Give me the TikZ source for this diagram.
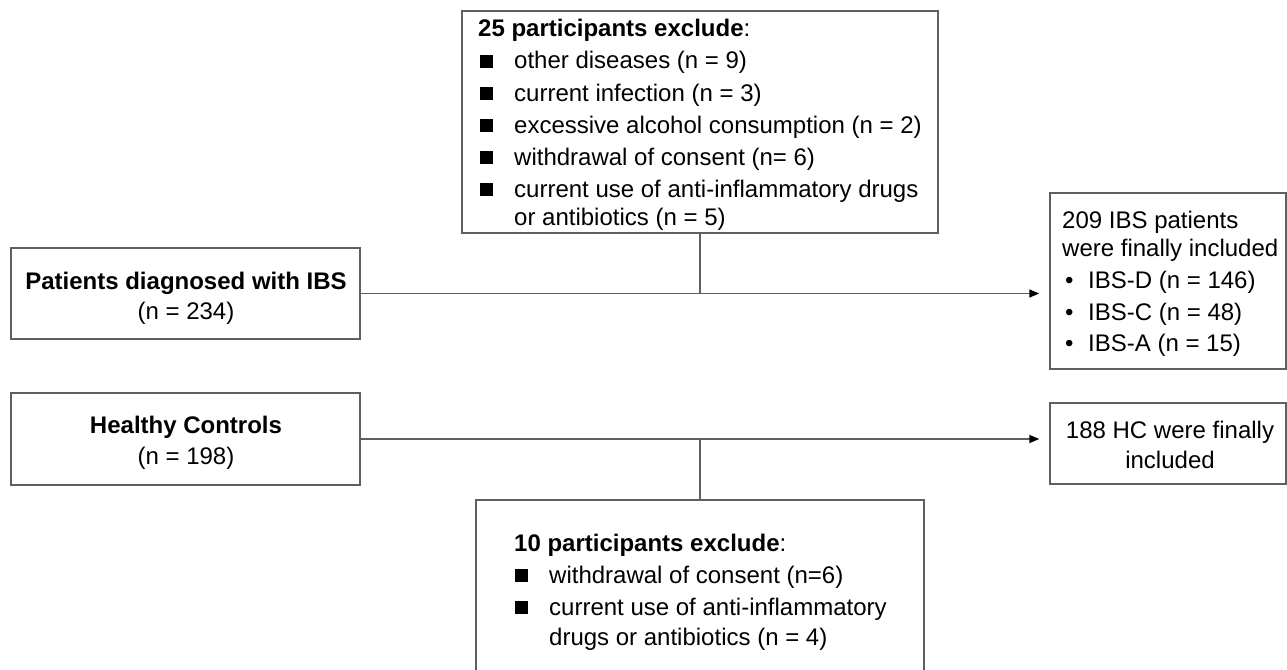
\documentclass[tikz,border=0pt]{standalone}
\usepackage{fontspec}
\setmainfont{Liberation Sans}
\usetikzlibrary{arrows.meta}
\definecolor{lc}{RGB}{95,95,95}
\newcommand{\sqitem}{\makebox[34pt][l]{\rule[1.5pt]{13pt}{13pt}}}
\newcommand{\dotitem}{\makebox[23pt][l]{\textbullet}}
\begin{document}
\begin{tikzpicture}[x=1pt,y=-1pt,
  box/.style={draw=lc, line width=1.4pt, inner sep=0pt, rectangle},
  txt/.style={inner sep=0pt, font=\fontsize{24}{28}\selectfont},
  ln/.style={draw=lc, line width=1.4pt},
  arr/.style={ln, -{Triangle[length=10pt,width=8pt,color=black]}, shorten >=10pt}]
\useasboundingbox (0,0) rectangle (1287,669);
% boxes
\node[box, minimum width=476pt, minimum height=222pt] (excl1) at (700,122) {};
\node[box, minimum width=349pt, minimum height=91pt] (ibs) at (185.5,293.5) {};
\node[box, minimum width=349pt, minimum height=92pt] (hc) at (185.5,439) {};
\node[box, minimum width=236pt, minimum height=176pt] (r1) at (1168,281) {};
\node[box, minimum width=236pt, minimum height=81pt] (r2) at (1168,443.5) {};
\node[box, minimum width=448pt, minimum height=180pt] (excl2) at (700,590) {};
% connectors
\draw[arr] (ibs.east) -- (ibs.east -| r1.west);
\draw[ln] (excl1.south) -- (excl1.south |- ibs.east);
\draw[arr] (hc.east) -- (hc.east -| r2.west);
\draw[ln] (excl2.north) -- (excl2.north |- hc.east);
% top exclusion text
\node[txt, anchor=base west] (t1) at (478,37) {\bfseries 25 participants exclude\mdseries:};
\node[txt, anchor=base west] (t2) at (480,69) {\sqitem other diseases (n = 9)};
\node[txt, anchor=base west] (t3) at (480,101) {\sqitem current infection (n = 3)};
\node[txt, anchor=base west] (t4) at (480,133) {\sqitem excessive alcohol consumption (n = 2)};
\node[txt, anchor=base west] (t5) at (480,165) {\sqitem withdrawal of consent (n= 6)};
\node[txt, anchor=base west] (t6) at (480,197) {\sqitem current use of anti-inflammatory drugs};
\node[txt, anchor=base west] (t7) at (514,225) {or antibiotics (n = 5)};
% left boxes
\node[txt, anchor=base] (ibs1) at (186,289) {\bfseries Patients diagnosed with IBS};
\node[txt, anchor=base] (ibs2) at (186,319) {(n = 234)};
\node[txt, anchor=base] (hc1) at (186,433) {\bfseries Healthy Controls};
\node[txt, anchor=base] (hc2) at (186,464) {(n = 198)};
% right boxes
\node[txt, anchor=base west] (r1a) at (1062,228) {209 IBS patients};
\node[txt, anchor=base west] (r1b) at (1062,256) {were finally included};
\node[txt, anchor=base west] (r1c) at (1065,288) {\dotitem IBS-D (n = 146)};
\node[txt, anchor=base west] (r1d) at (1065,320) {\dotitem IBS-C (n = 48)};
\node[txt, anchor=base west] (r1e) at (1065,351) {\dotitem IBS-A (n = 15)};
\node[txt, anchor=base] (r2a) at (1170,438) {188 HC were finally};
\node[txt, anchor=base] (r2b) at (1170,468) {included};
% bottom exclusion text
\node[txt, anchor=base west] (b1) at (514,551) {\bfseries 10 participants exclude\mdseries:};
\node[txt, anchor=base west] (b2) at (515,583) {\sqitem withdrawal of consent (n=6)};
\node[txt, anchor=base west] (b3) at (515,615) {\sqitem current use of anti-inflammatory};
\node[txt, anchor=base west] (b4) at (549,645) {drugs or antibiotics (n = 4)};
\end{tikzpicture}
\end{document}
